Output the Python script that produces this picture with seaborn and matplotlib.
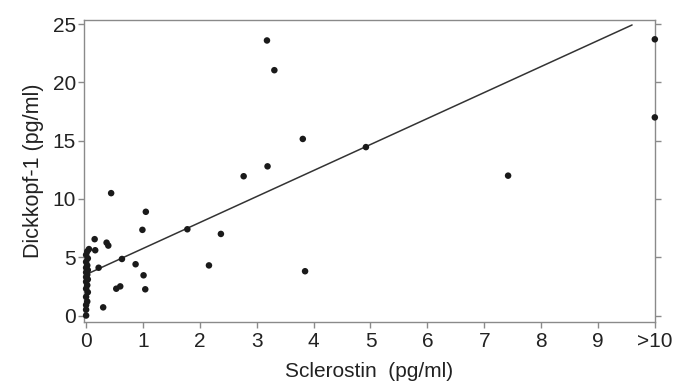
import matplotlib
matplotlib.use("Agg")
import matplotlib.pyplot as plt
import seaborn as sns
import pandas as pd

# Sclerostin values (x, pg/ml; 10 means ">10") and Dickkopf-1 values (y, pg/ml)
sclerostin = [
    0.0, 0.0, 0.0, 0.02, 0.0, 0.03, 0.0, 0.02, 0.0, 0.03, 0.0, 0.02, 0.0, 0.03,
    0.0, 0.02, 0.0, 0.03, 0.0, 0.02, 0.05,
    0.44, 1.05, 0.99, 0.15, 0.36, 0.39, 0.16, 0.63, 0.22, 0.87, 1.01, 0.53,
    0.60, 1.04, 0.30,
    1.78, 2.37, 2.16, 3.85,
    3.18, 3.31, 3.81, 4.92, 3.19, 2.77,
    7.42, 10.0, 10.0,
]
dickkopf = [
    0.0, 0.5, 0.9, 1.2, 1.6, 2.0, 2.3, 2.6, 2.9, 3.1, 3.3, 3.5, 3.7, 3.9,
    4.1, 4.3, 4.6, 4.9, 5.2, 5.5, 5.7,
    10.5, 8.9, 7.35, 6.55, 6.25, 6.0, 5.6, 4.85, 4.1, 4.4, 3.45, 2.3,
    2.5, 2.25, 0.7,
    7.4, 7.0, 4.3, 3.8,
    23.6, 21.05, 15.15, 14.45, 12.8, 11.95,
    12.0, 23.7, 17.0,
]

# fitted regression line end points
fit_x = [0.0, 9.6]
fit_y = [3.52, 24.93]

x_ticks = list(range(11))
x_tick_labels = ["0", "1", "2", "3", "4", "5", "6", "7", "8", "9", ">10"]
y_ticks = [0, 5, 10, 15, 20, 25]

df = pd.DataFrame({"sclerostin": sclerostin, "dickkopf": dickkopf})

sns.set_style("ticks")
plt.rcParams["font.family"] = ["Liberation Sans", "DejaVu Sans"]

fig = plt.figure(figsize=(6.73, 3.86), dpi=100)
ax = fig.add_axes([0.125, 0.166, 0.848, 0.782])

sns.scatterplot(data=df, x="sclerostin", y="dickkopf", ax=ax, color="#1a1a1a",
                s=22, edgecolor="none", clip_on=False, zorder=3)
sns.lineplot(x=fit_x, y=fit_y, ax=ax, color="#333333", linewidth=1.1)

ax.set_xlim(-0.035, 10.0)
ax.set_ylim(-0.55, 25.35)
ax.set_xticks(x_ticks)
ax.set_xticklabels(x_tick_labels)
ax.set_yticks(y_ticks)

for sp in ax.spines.values():
    sp.set_visible(True)
    sp.set_color("#8a8a8a")
    sp.set_linewidth(1.0)

ax.tick_params(axis="both", labelsize=15, colors="#8a8a8a", labelcolor="#222222",
               length=4, width=1.0, direction="out")
ax.tick_params(axis="x", pad=3)
ax.tick_params(axis="y", right=True, labelright=False, pad=2)

ax.set_xlabel("Sclerostin  (pg/ml)", fontsize=15, color="#222222", labelpad=8)
ax.set_ylabel("Dickkopf-1 (pg/ml)", fontsize=15.5, color="#222222", labelpad=6)

fig.savefig("out.png", dpi=100)
